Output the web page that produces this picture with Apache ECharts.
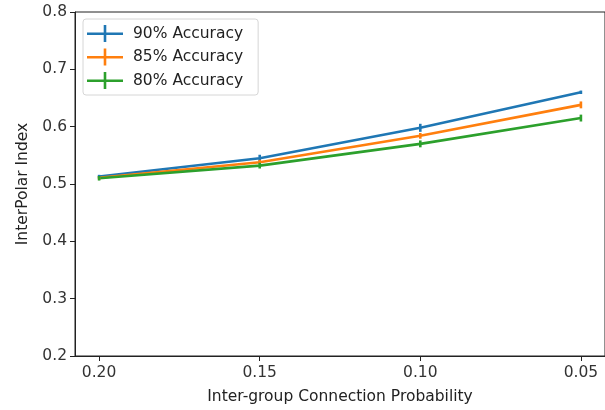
<!DOCTYPE html>
<html>
<head>
<meta charset="utf-8">
<script src="https://cdn.jsdelivr.net/npm/echarts@6/dist/echarts.min.js"></script>
<style>
  html, body { margin: 0; padding: 0; background: #fff; }
  #chart { width: 605px; height: 410px; }
</style>
</head>
<body>
<div id="chart"></div>
<script>
// Inter-group connection probability (x) and InterPolar index per accuracy level
const probabilities = [0.20, 0.15, 0.10, 0.05];
const xTicks = [0.05, 0.10, 0.15, 0.20];
const yTicks = [0.2, 0.3, 0.4, 0.5, 0.6, 0.7, 0.8];

const acc90 = [0.513, 0.545, 0.598, 0.660];
const acc85 = [0.511, 0.538, 0.584, 0.638];
const acc80 = [0.510, 0.532, 0.570, 0.615];

const err90 = [0.003, 0.006, 0.007, 0.003];
const err85 = [0.003, 0.004, 0.005, 0.006];
const err80 = [0.004, 0.005, 0.006, 0.006];

const seriesNames = ['90% Accuracy', '85% Accuracy', '80% Accuracy'];
const colors = ['#1f77b4', '#ff7f0e', '#2ca02c'];

const FONT = 'DejaVu Sans';
const FS = 15.5;
const LW = 2.6;

function lineSeries(name, values, color) {
  return {
    name: name,
    type: 'line',
    data: probabilities.map((p, i) => [p, values[i]]),
    symbol: 'none',
    lineStyle: { color: color, width: LW },
    itemStyle: { color: color },
    z: 3
  };
}

function errorSeries(name, values, errs, color) {
  return {
    name: name,
    type: 'custom',
    data: probabilities.map((p, i) => [p, values[i] - errs[i], values[i] + errs[i]]),
    renderItem: function (params, api) {
      const lo = api.coord([api.value(0), api.value(1)]);
      const hi = api.coord([api.value(0), api.value(2)]);
      return {
        type: 'line',
        shape: { x1: lo[0], y1: lo[1], x2: hi[0], y2: hi[1] },
        style: { stroke: color, lineWidth: LW }
      };
    },
    itemStyle: { color: color },
    z: 4
  };
}

const chart = echarts.init(document.getElementById('chart'), null, { renderer: 'canvas' });

chart.setOption({
  animation: false,
  backgroundColor: '#fff',
  color: colors,
  grid: {
    left: 75, top: 12, width: 531, height: 345,
    show: true, borderColor: '#222', borderWidth: 1,
    containLabel: false
  },
  legend: {
    data: seriesNames,
    orient: 'vertical',
    left: 83, top: 19,
    padding: [6, 15, 6, 4],
    itemGap: 6.5,
    itemWidth: 36, itemHeight: 17,
    icon: 'path://M0,7.4H36V10H0Z M16.7,0H19.3V17H16.7Z',
    backgroundColor: '#fff',
    borderColor: '#d6d6d6', borderWidth: 1, borderRadius: 3,
    textStyle: { fontFamily: FONT, fontSize: FS, color: '#222', padding: [0, 0, 0, 5] }
  },
  xAxis: {
    type: 'value',
    inverse: true,
    min: 0.0425,
    max: 0.2075,
    name: 'Inter-group Connection Probability',
    nameLocation: 'middle',
    nameGap: 33,
    nameTextStyle: { fontFamily: FONT, fontSize: FS, color: '#222' },
    axisLine: { show: true, onZero: false, lineStyle: { color: '#222', width: 1 } },
    axisTick: { show: true, length: 5, customValues: xTicks, lineStyle: { color: '#222' } },
    axisLabel: {
      customValues: xTicks,
      formatter: v => v.toFixed(2),
      fontFamily: FONT, fontSize: FS, color: '#333', margin: 9
    },
    splitLine: { show: false }
  },
  yAxis: {
    type: 'value',
    min: yTicks[0],
    max: yTicks[yTicks.length - 1],
    interval: 0.1,
    name: 'InterPolar Index',
    nameLocation: 'middle',
    nameGap: 44,
    nameTextStyle: { fontFamily: FONT, fontSize: FS, color: '#222' },
    axisLine: { show: true, lineStyle: { color: '#222', width: 1 } },
    axisTick: { show: true, length: 5, lineStyle: { color: '#222' } },
    axisLabel: {
      formatter: v => v.toFixed(1),
      fontFamily: FONT, fontSize: FS, color: '#333', margin: 8
    },
    splitLine: { show: false }
  },
  series: [
    lineSeries(seriesNames[0], acc90, colors[0]),
    lineSeries(seriesNames[1], acc85, colors[1]),
    lineSeries(seriesNames[2], acc80, colors[2]),
    errorSeries(seriesNames[0], acc90, err90, colors[0]),
    errorSeries(seriesNames[1], acc85, err85, colors[1]),
    errorSeries(seriesNames[2], acc80, err80, colors[2])
  ]
});
</script>
</body>
</html>
